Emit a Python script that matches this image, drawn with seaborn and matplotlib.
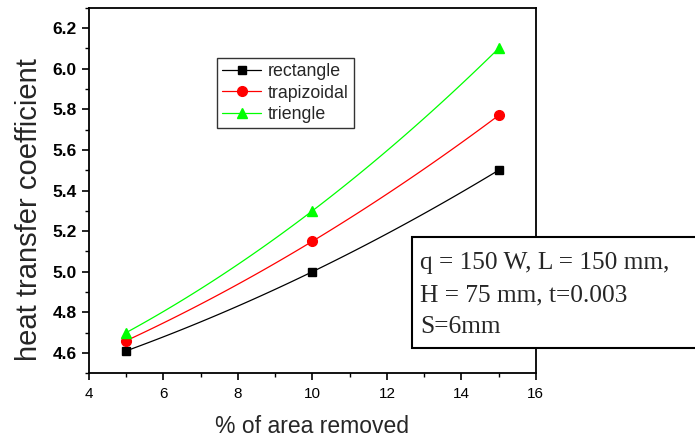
import matplotlib
matplotlib.use('Agg')
import matplotlib.pyplot as plt
from matplotlib.lines import Line2D
from matplotlib.patches import Rectangle
from matplotlib.ticker import MultipleLocator
import seaborn as sns

# data
area_removed = [5, 10, 15]
rectangle = [4.61, 5.00, 5.50]
trapizoidal = [4.66, 5.15, 5.77]
triengle = [4.70, 5.30, 6.10]

series_names = ['rectangle', 'trapizoidal', 'triengle']
series_values = [rectangle, trapizoidal, triengle]
series_colors = ['black', '#ff0000', '#00ff00']
series_markers = ['s', 'o', '^']
marker_sizes = [6, 7, 7.5]

box_lines = ['q = 150 W, L = 150 mm,', 'H = 75 mm, t=0.003', 'S=6mm']

sns.set_style('ticks')
plt.rcParams['font.family'] = ['Liberation Sans', 'DejaVu Sans']

fig = plt.figure(figsize=(6.95, 4.37), dpi=100)
ax = fig.add_axes([0.128, 0.146, 0.643, 0.836])

handles = []
for name, vals, col, mk, ms in zip(series_names, series_values, series_colors,
                                   series_markers, marker_sizes):
    # smooth curve through the points (quadratic through 3 points)
    sns.regplot(x=area_removed, y=vals, order=2, ci=None, scatter=False, ax=ax,
                line_kws={'color': col, 'linewidth': 0.9})
    ax.plot(area_removed, vals, linestyle='none', marker=mk, markersize=ms,
            color=col, markeredgecolor=col, zorder=3)
    handles.append(Line2D([], [], color=col, linewidth=0.9, marker=mk,
                          markersize=ms, markeredgecolor=col, label=name))

ax.set_xlim(4, 16)
ax.set_ylim(4.5, 6.3)
ax.xaxis.set_major_locator(MultipleLocator(2))
ax.xaxis.set_minor_locator(MultipleLocator(1))
ax.yaxis.set_major_locator(MultipleLocator(0.2))
ax.yaxis.set_minor_locator(MultipleLocator(0.1))
ax.yaxis.set_major_formatter(matplotlib.ticker.FormatStrFormatter('%.1f'))

for s in ax.spines.values():
    s.set_linewidth(1.3)
    s.set_color('black')
ax.tick_params(which='major', direction='out', length=5, width=1.2, colors='black')
ax.tick_params(which='minor', direction='out', length=3, width=1.0, colors='black')
ax.tick_params(axis='x', labelsize=11, pad=5)
ax.tick_params(axis='y', labelsize=12.5, pad=4)
for lbl in ax.get_yticklabels():
    lbl.set_fontweight('bold')

ax.set_xlabel('% of area removed', fontsize=16.5, labelpad=10)
ax.set_ylabel('heat transfer coefficient', fontsize=21)
ax.yaxis.set_label_coords(-0.103, 0.447)

leg = ax.legend(handles=handles, loc='upper left', bbox_to_anchor=(0.286, 0.863),
                fontsize=12.8, frameon=True, fancybox=False, borderpad=0.3,
                handlelength=2.2, handletextpad=0.35, labelspacing=0.25,
                borderaxespad=0)
leg.get_frame().set_edgecolor('black')
leg.get_frame().set_linewidth(1.0)

# annotation box, running off the right edge
fig.patches.append(Rectangle((412 / 695, 1 - 348 / 437), 0.5, 111 / 437,
                             transform=fig.transFigure, facecolor='white',
                             edgecolor='black', linewidth=1.5, zorder=5))
for i, txt in enumerate(box_lines):
    fig.text(420 / 695, 1 - (269 + 32 * i) / 437, txt, fontsize=18.3,
             family=['Liberation Serif', 'DejaVu Serif'], va='baseline',
             ha='left', zorder=6)

fig.savefig('out.png', dpi=100)
